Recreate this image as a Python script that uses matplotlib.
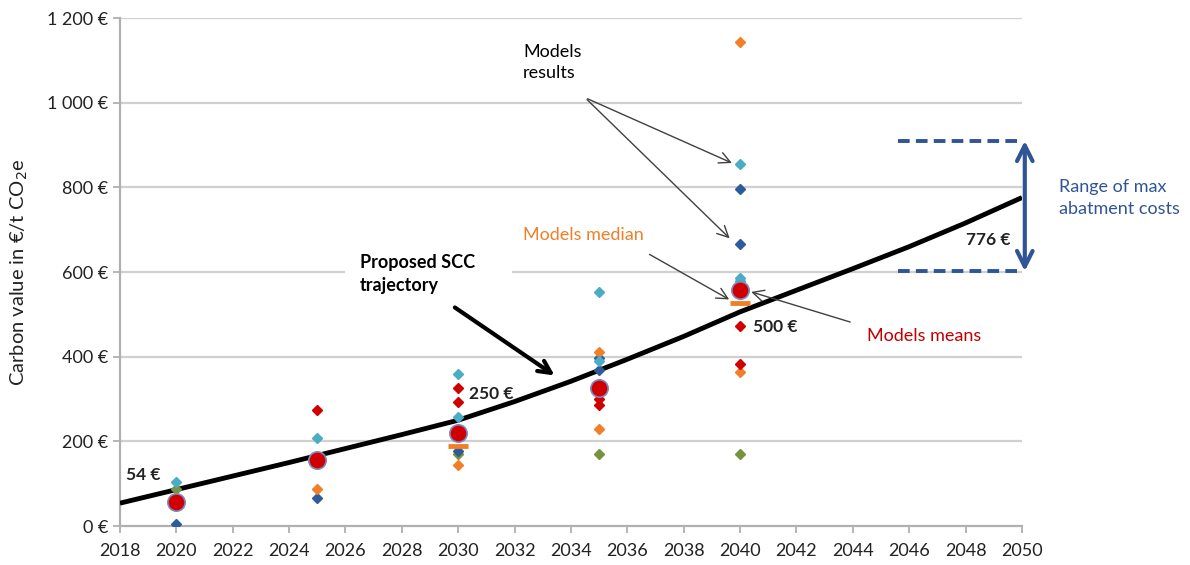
import matplotlib
matplotlib.use("Agg")
import matplotlib.pyplot as plt
from matplotlib.ticker import FuncFormatter
from matplotlib.patches import Rectangle

plt.rcParams['font.family'] = ['Lato', 'DejaVu Sans']

# ---- data ----
traj_years = [2018, 2020, 2022, 2024, 2026, 2028, 2030, 2032, 2034, 2036, 2038, 2040, 2042, 2044, 2046, 2048, 2050]
traj_values = [54, 86, 118, 150, 183, 216, 250, 294, 342, 394, 448, 506, 557, 608, 660, 716, 776]

lb_x = [2020, 2025, 2030, 2030, 2035, 2035, 2040, 2040, 2040]
lb_y = [104, 208, 358, 257, 553, 390, 855, 586, 580]
db_x = [2020, 2025, 2030, 2035, 2035, 2040, 2040]
db_y = [5, 66, 178, 397, 368, 796, 666]
red_x = [2025, 2030, 2030, 2035, 2035, 2040, 2040]
red_y = [274, 326, 293, 300, 287, 472, 382]
or_x = [2020, 2025, 2030, 2035, 2035, 2040, 2040]
or_y = [65, 87, 144, 411, 229, 1143, 364]
gr_x = [2020, 2025, 2030, 2035, 2040]
gr_y = [88, 160, 170, 170, 170]
mean_x = [2020, 2025, 2030, 2035, 2040]
mean_y = [57, 156, 220, 326, 557]
med_x = [2030, 2040]
med_y = [188, 527]

range_low, range_high = 602, 910
x_ticks = list(range(2018, 2051, 2))
y_ticks = [0, 200, 400, 600, 800, 1000, 1200]

# ---- figure ----
fig = plt.figure(figsize=(11.9, 5.65), dpi=100)
ax = fig.add_axes([0.1008, 0.069, 0.758, 0.899])
ax.set_xlim(2018, 2050)
ax.set_ylim(0, 1200)

grid_c = '#D0D0D0'
for yv in y_ticks[1:]:
    ax.axhline(yv, color=grid_c, lw=1.6, zorder=0)

for s in ['top', 'right']:
    ax.spines[s].set_visible(False)
for s in ['left', 'bottom']:
    ax.spines[s].set_color('#B0B0B0')
    ax.spines[s].set_linewidth(1.6)

ax.set_xticks(x_ticks)
ax.set_yticks(y_ticks)
ax.yaxis.set_major_formatter(FuncFormatter(lambda v, p: f"{int(v):,} €".replace(",", " ")))
ax.tick_params(axis='both', colors='#B0B0B0', labelcolor='#222222', labelsize=13, length=5, width=1.3)
ax.tick_params(axis='x', pad=7)

ax.set_ylabel("Carbon value in €/t CO$_2$e", fontsize=14.5, color='#222222', labelpad=12)

# trajectory
ax.plot(traj_years, traj_values, color='black', lw=3.5, zorder=3, solid_capstyle='butt')

ms = 4.6
ax.plot(gr_x, gr_y, 'D', color='#77933C', ms=ms, zorder=4, ls='none')
ax.plot(db_x, db_y, 'D', color='#2E5C9A', ms=ms, zorder=4, ls='none')
ax.plot(or_x, or_y, 'D', color='#F07F28', ms=ms, zorder=4, ls='none')
ax.plot(red_x, red_y, 'D', color='#D00000', ms=ms, zorder=4, ls='none')
ax.plot(lb_x, lb_y, 'D', color='#4BACC6', ms=ms, zorder=4, ls='none')
ax.plot(med_x, med_y, '_', color='#F07F28', ms=14, mew=3.5, zorder=5, ls='none')
ax.plot(mean_x, mean_y, 'o', color='#D00000', mec='#7D8CC4', mew=1.2, ms=12.5, zorder=6, ls='none')

# value labels
bold = dict(fontsize=12.5, fontweight='bold', color='#222222')
ax.text(2018.2, 120, "54 €", ha='left', va='center', zorder=7, **bold)
ax.text(2030.4, 312, "250 €", ha='left', va='center', zorder=7, **bold)
ax.text(2040.45, 470, "500 €", ha='left', va='center', zorder=7, **bold)
ax.text(2049.6, 675, "776 €", ha='right', va='center', zorder=7, **bold)

# proposed SCC trajectory
ax.add_patch(Rectangle((2026.0, 545), 5.9, 110, facecolor='white', edgecolor='none', zorder=1))
ax.annotate("", xy=(2033.5, 352), xytext=(2029.8, 520),
            arrowprops=dict(arrowstyle='->', color='black', lw=3, mutation_scale=22), zorder=7)
ax.text(2026.5, 595, "Proposed SCC\ntrajectory", ha='left', va='center', fontsize=13,
        fontweight='bold', color='black', linespacing=1.4, zorder=8)

# models results
ax.text(2032.3, 1095, "Models\nresults", ha='left', va='center', fontsize=13,
        color='black', linespacing=1.4, zorder=8)
arr_g = dict(arrowstyle='->', color='#404040', lw=1.0, mutation_scale=20)
ax.annotate("", xy=(2039.8, 855), xytext=(2034.5, 1012), arrowprops=arr_g, zorder=7)
ax.annotate("", xy=(2039.7, 675), xytext=(2034.5, 1012), arrowprops=arr_g, zorder=7)

# models median
ax.text(2032.3, 688, "Models median", ha='left', va='center', fontsize=13, color='#F07F28', zorder=8)
ax.annotate("", xy=(2039.7, 532), xytext=(2036.7, 645), arrowprops=arr_g, zorder=7)

# models means
ax.text(2044.5, 448, "Models means", ha='left', va='center', fontsize=13, color='#C00000', zorder=8)
ax.annotate("", xy=(2040.3, 555), xytext=(2044.0, 480), arrowprops=arr_g, zorder=7)

# range of max abatement costs
blue = '#2F5597'
ax.plot([2045.6, 2050], [range_high, range_high], color=blue, lw=2.8, ls=(0, (3, 1.6)), clip_on=False, zorder=5)
ax.plot([2045.6, 2050], [range_low, range_low], color=blue, lw=2.8, ls=(0, (3, 1.6)), clip_on=False, zorder=5)
ax.annotate("", xy=(2050.1, range_high), xytext=(2050.1, range_low),
            arrowprops=dict(arrowstyle='<->', color=blue, lw=3, mutation_scale=28,
                            shrinkA=0, shrinkB=0), annotation_clip=False, zorder=6)
ax.text(2051.3, 775, "Range of max\nabatment costs", ha='left', va='center', fontsize=13,
        color=blue, linespacing=1.4, zorder=8)

fig.savefig("out.png", dpi=100)
